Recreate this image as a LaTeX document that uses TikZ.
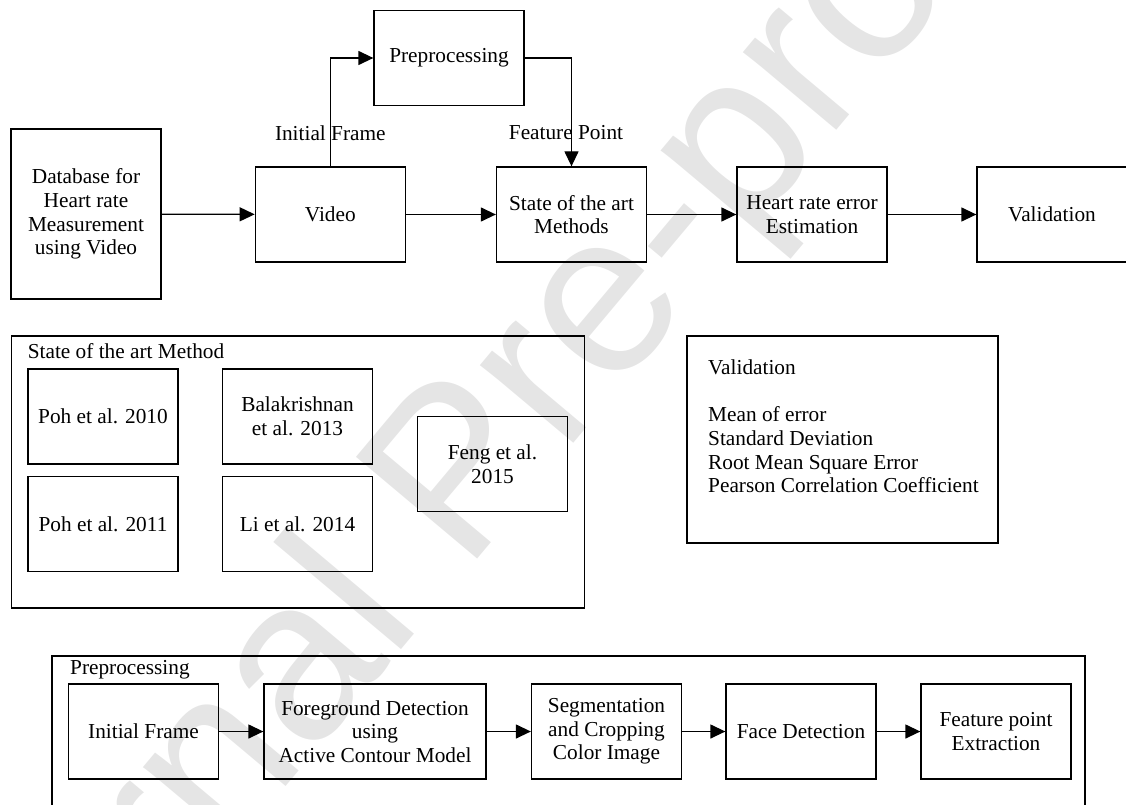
\documentclass[tikz,border=0pt]{standalone}
\usepackage{fontspec}
\setmainfont{Liberation Serif}
\newfontfamily\wmfont{Liberation Sans}
\usetikzlibrary{arrows.meta}
\begin{document}
\begin{tikzpicture}[x=1pt,y=-1pt,
  txt/.style={font=\fontsize{21.3}{23.7}\selectfont},
  box/.style={txt, draw=black, line width=1.3pt, minimum width=150pt, minimum height=95pt, inner sep=0pt, align=center},
  frame/.style={draw=black, line width=1.3pt},
  conn/.style={draw=black, line width=1.3pt, -{Triangle[length=15pt,width=14pt]}},
  lbl/.style={txt, inner sep=0pt},
  wm/.style={inner sep=0pt, anchor=base west, rotate=50, text=black!10, font=\wmfont\fontsize{230}{230}\selectfont},
]
\useasboundingbox (0,0) rectangle (1126,805);
\begin{scope}
\clip (0,0) rectangle (1126,805);
\node[wm] (wm) at (-60.7,1200) {Journal Pre-proof};

% top row
\node[box, minimum height=170pt] (db) at (86,214) {Database for\\Heart rate\\Measurement\\using Video};
\node[box] (video) at (330.3,214.5) {Video};
\node[box] (preproc) at (449,58) {Preprocessing};
\node[box] (state) at (571.5,214.5) {State of the art\\Methods};
\node[box] (heart) at (812,214.5) {Heart rate error\\Estimation};
\node[box] (valid) at (1052,214.5) {Validation};

\draw[conn] (db) -- (video);
\draw[conn] (video) -- (state);
\draw[conn] (video.north) |- (preproc.west);
\draw[conn] (preproc.east) -| (state.north);
\draw[conn] (state) -- (heart);
\draw[conn] (heart) -- (valid);
\node[lbl] (lif) at (330.3,133) {Initial Frame};
\node[lbl] (lfp) at (566,133) {Feature Point};

% state of the art container
\draw[frame] (11.5,336) rectangle (584.4,608);
\node[lbl, anchor=west] (sotat) at (27.6,351) {State of the art Method};
\node[box] (poh10) at (103,416.5) {Poh et al. 2010};
\node[box] (poh11) at (103,524) {Poh et al. 2011};
\node[box] (bala) at (297.5,416.5) {Balakrishnan\\et al. 2013};
\node[box] (li) at (297.5,524) {Li et al. 2014};
\node[box] (feng) at (492.5,464) {Feng et al.\\2015};

% validation container
\draw[frame] (687,336) rectangle (998,543);
\node[lbl, anchor=north west, align=left] (vlist) at (708,359.5) {Validation\\[23.7pt]Mean of error\\Standard Deviation\\Root Mean Square Error\\Pearson Correlation Coefficient};

% preprocessing container
\draw[frame] (52,656) rectangle (1085,830);
\node[lbl, anchor=west] (ppt) at (70,670) {Preprocessing};
\node[box] (init) at (143.5,731.5) {Initial Frame};
\node[box, minimum width=222pt] (fg) at (375,731.5) {Foreground Detection\\using\\Active Contour Model};
\node[box] (seg) at (606.5,731.5) {Segmentation\\and Cropping\\Color Image};
\node[box] (face) at (801,731.5) {Face Detection};
\node[box] (feat) at (996,731.5) {Feature point\\Extraction};
\draw[conn] (init) -- (fg);
\draw[conn] (fg) -- (seg);
\draw[conn] (seg) -- (face);
\draw[conn] (face) -- (feat);
\end{scope}
\end{tikzpicture}
\end{document}
